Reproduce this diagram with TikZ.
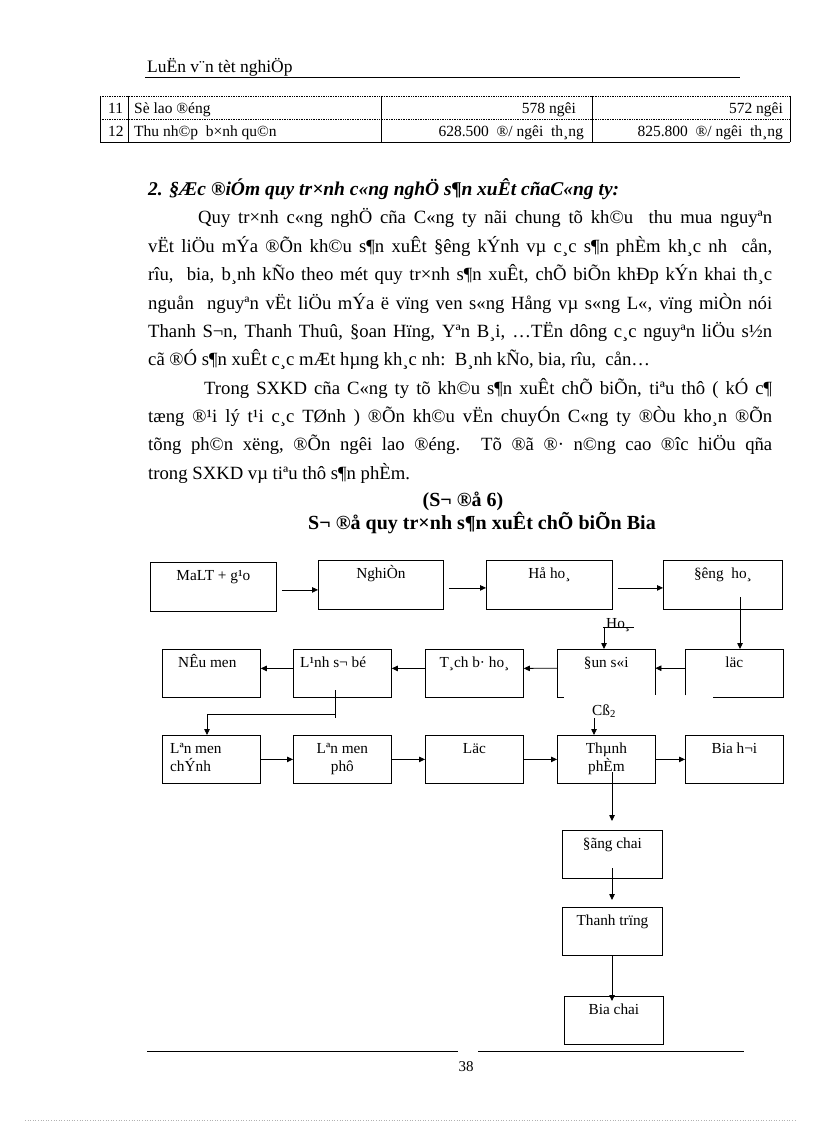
\documentclass[tikz,border=0pt]{standalone}
\usepackage{fontspec}
\setmainfont{Liberation Serif}
\usetikzlibrary{arrows.meta}
\newcommand\jline[2]{\makebox[#1][s]{#2}}
\begin{document}
\begin{tikzpicture}[x=1pt,y=-1pt,
  box/.style={draw,line width=0.8pt,inner sep=0pt,anchor=north west,minimum height=48pt,minimum width=98pt},
  openbox/.style={inner sep=0pt,anchor=north west,minimum height=48pt,minimum width=98pt},
  lbl/.style={inner sep=0pt,font=\fontsize{15.3}{18}\selectfont,align=center},
  arr/.style={line width=0.8pt,-{Triangle[length=6pt,width=5.5pt]}},
  plain/.style={line width=0.8pt},
  body/.style={inner sep=0pt,anchor=base west,font=\fontsize{18.7}{22}\selectfont},
  tbl/.style={inner sep=0pt,font=\fontsize{15.5}{17}\selectfont},
]
\fill[white] (0,0) rectangle (816,1123);
\useasboundingbox (0,0) rectangle (816,1123);

% header
\node[inner sep=0pt,anchor=base west,font=\fontsize{17.5}{19}\selectfont] (hdr) at (147,73) {LuËn v¨n tèt nghiÖp};
\draw[plain] (145,77) -- (740,77);

% table
\draw[densely dotted,line width=0.7pt] (100,96) -- (790,96);
\draw[densely dotted,line width=0.7pt] (100,119) -- (790,119);
\draw[plain] (100,142) -- (790,142);
\foreach \x in {100,128,381,592,790} \draw[plain] (\x,96) -- (\x,142);
\node[tbl,anchor=base west] (n11) at (108,114) {11};
\node[tbl,anchor=base west] (t11) at (134,114) {Sè lao ®éng};
\node[tbl,anchor=base east] (a11) at (576,114) {578 ngêi};
\node[tbl,anchor=base east] (b11) at (783,114) {572 ngêi};
\node[tbl,anchor=base west] (n12) at (108,137) {12};
\node[tbl,anchor=base west] (t12) at (134,137) {Thu nh©p\ \ b×nh qu©n};
\node[tbl,anchor=base east] (a12) at (584,137) {628.500\ \ ®/ ngêi\ \ th¸ng};
\node[tbl,anchor=base east] (b12) at (783,137) {825.800\ \ ®/ ngêi\ \ th¸ng};

% heading
\node[body,font=\fontsize{19.5}{22}\selectfont\bfseries\itshape] (head) at (148,196) {2. §Æc ®iÓm quy tr×nh c«ng nghÖ s¶n xuÊt cñaC«ng ty:};

% paragraph 1
\node[body] (p1) at (198,224) {\jline{574pt}{Quy tr×nh c«ng nghÖ\ cña C«ng ty nãi\ chung tõ kh©u\ \ thu mua nguyªn}};
\node[body] (p2) at (148,252) {\jline{624pt}{vËt liÖu\ mÝa\ ®Õn kh©u\ s¶n xuÊt\ §êng\ kÝnh\ vµ c¸c s¶n phÈm kh¸c nh\ \ cån,}};
\node[body] (p3) at (148,280) {\jline{624pt}{rîu,\ \ bia, b¸nh kÑo theo mét quy tr×nh s¶n xuÊt, chÕ biÕn khÐp kÝn khai th¸c}};
\node[body] (p4) at (148,309) {\jline{624pt}{nguån\ \ nguyªn vËt liÖu mÝa ë\ vïng ven s«ng Hång vµ s«ng L«, vïng\ miÒn nói}};
\node[body] (p5) at (148,337) {\jline{624pt}{Thanh S¬n, Thanh Thuû, §oan Hïng, Yªn B¸i, …TËn dông c¸c nguyªn liÖu s½n}};
\node[body] (p6) at (148,365) {cã ®Ó s¶n xuÊt c¸c mÆt hµng kh¸c nh:\ \ B¸nh kÑo, bia, rîu,\ \ cån…};

% paragraph 2
\node[body] (q1) at (204,394) {\jline{568pt}{Trong SXKD cña C«ng ty tõ kh©u s¶n xuÊt chÕ biÕn, tiªu thô ( kÓ c¶}};
\node[body] (q2) at (148,422) {\jline{624pt}{tæng ®¹i lý t¹i\ c¸c TØnh ) ®Õn kh©u vËn chuyÓn C«ng ty ®Òu kho¸n ®Õn}};
\node[body] (q3) at (148,450) {\jline{624pt}{tõng ph©n\ xëng,\ ®Õn ngêi\ lao ®éng. Tõ ®ã ®· n©ng cao ®îc\ hiÖu qña}};
\node[body] (q4) at (148,479) {trong SXKD vµ tiªu thô s¶n phÈm.};

% titles
\node[inner sep=0pt,anchor=base,font=\fontsize{20}{22}\selectfont\bfseries] (ti1) at (463,506) {(S¬ ®å 6)};
\node[inner sep=0pt,anchor=base,font=\fontsize{20}{22}\selectfont\bfseries] (ti2) at (482,529) {S¬ ®å quy tr×nh\ s¶n xuÊt chÕ biÕn\ Bia};

% row 1
\node[box,minimum width=126pt,minimum height=49pt] (malt) at (150,562) {};
\node[box,minimum width=125pt,minimum height=49pt] (nghien) at (318,560) {};
\node[box,minimum width=126pt,minimum height=49pt] (hoho) at (486,560) {};
\node[box,minimum width=119pt,minimum height=49pt] (duong) at (663,560) {};
\node[lbl,anchor=base] at ([yshift=-18pt]malt.north) {MaLT + g¹o};
\node[lbl,anchor=base] at ([yshift=-18pt]nghien.north) {NghiÒn};
\node[lbl,anchor=base] at ([yshift=-18pt]hoho.north) {Hå ho¸};
\node[lbl,anchor=base] at ([yshift=-18pt]duong.north) {§êng\ \ ho¸};
\draw[arr] ([xshift=5pt,yshift=-3pt]malt.east) -- ([yshift=-3pt]malt.east -| nghien.west);
\draw[arr] ([xshift=5pt,yshift=-3pt]nghien.east) -- ([yshift=-3pt]nghien.east -| hoho.west);
\draw[arr] ([xshift=5pt,yshift=-3pt]hoho.east) -- ([yshift=-3pt]hoho.east -| duong.west);

% row 2
\node[box] (nau) at (162,649) {};
\node[box] (lanh) at (293,649) {};
\node[box] (tach) at (425,649) {};
\node[openbox] (dun) at (557,649) {};
\node[openbox] (loc) at (685,649) {};
\draw[plain] (dun.south west) -- (dun.north west) -- (dun.north east) -- ([yshift=2pt]dun.south east);
\draw[plain] (dun.south west) -- ++(7,0);
\draw[plain] ([yshift=2pt]loc.south west) -- (loc.north west) -- (loc.north east) -- (loc.south east) -- ++(-70,0);
\node[lbl,anchor=base west] at ([xshift=16pt,yshift=-18pt]nau.north west) {NÊu men};
\node[lbl,anchor=base west] at ([xshift=7pt,yshift=-18pt]lanh.north west) {L¹nh s¬ bé};
\node[lbl,anchor=base] at ([yshift=-18pt]tach.north) {T¸ch b· ho¸};
\node[lbl,anchor=base] at ([yshift=-18pt]dun.north) {§un s«i};
\node[lbl,anchor=base] at ([yshift=-18pt]loc.north) {läc};
\coordinate (dstart) at (740,597);
\draw[arr] (dstart) -- (dstart |- loc.north);
\draw[arr] ([yshift=5pt]loc.west) -- ([yshift=5pt]dun.east);
\draw[arr] ([yshift=5pt]dun.west) -- ([yshift=5pt]tach.east);
\draw[arr] ([yshift=5pt]tach.west) -- ([yshift=5pt]lanh.east);
\draw[arr] ([yshift=5pt]lanh.west) -- ([yshift=5pt]nau.east);
% Hoa input
\node[lbl,anchor=base west] (holbl) at (606,628) {Ho¸};
\coordinate (hoin) at (604,627);
\draw[plain] (603,627) -- (634,627);
\draw[arr] (hoin) -- (hoin |- dun.north);

% row 3
\node[box] (lchinh) at (162,735) {};
\node[box] (lphu) at (293,735) {};
\node[box] (loc2) at (425,735) {};
\node[box] (thanh) at (557,735) {};
\node[box] (biahoi) at (685,735) {};
\node[lbl,anchor=base west,align=left] at ([xshift=8pt,yshift=-36pt]lchinh.north west) {Lªn men\\chÝnh};
\node[lbl,anchor=base] at ([yshift=-36pt]lphu.north) {Lªn men\\phô};
\node[lbl,anchor=base] at ([yshift=-18pt]loc2.north) {Läc};
\node[lbl,anchor=base] at ([yshift=-36pt]thanh.north) {Thµnh\\phÈm};
\node[lbl,anchor=base] at ([yshift=-18pt]biahoi.north) {Bia h¬i};
\coordinate (lstart) at (335,690);
\coordinate (lbend) at (335,714);
\draw[plain] (lstart) -- (335,718);
\draw[arr] (lbend) -- (207,714) -- (207,735);
\draw[arr] (lchinh.east) -- (lphu.west);
\draw[arr] (lphu.east) -- (loc2.west);
\draw[arr] (loc2.east) -- (thanh.west);
\draw[arr] (thanh.east) -- (biahoi.west);
% CO2 input
\node[lbl,anchor=base west] (colbl) at (592,715) {Cß\textsubscript{2}};
\coordinate (coin) at (594,718);
\draw[arr] (coin) -- (coin |- thanh.north);

% column
\node[box,minimum width=100pt] (dong) at (562,830) {};
\node[box,minimum width=100pt] (trung) at (562,907) {};
\node[box,minimum width=99pt] (biachai) at (564,996) {};
\node[lbl,anchor=base] at ([yshift=-18pt]dong.north) {§ãng chai};
\node[lbl,anchor=base] at ([yshift=-18pt]trung.north) {Thanh trïng};
\node[lbl,anchor=base] at ([yshift=-18pt]biachai.north) {Bia chai};
\coordinate (t1) at (612,772);
\coordinate (t1e) at (612,821);
\draw[arr] (t1) -- (t1e);
\coordinate (t2) at (612,868);
\coordinate (t2e) at (612,900);
\draw[arr] (t2) -- (t2e);
\coordinate (t3e) at (612,1001);
\draw[arr] (trung.south -| t3e) -- (t3e);

% footer
\draw[plain] (147,1051) -- (458,1051);
\draw[plain] (478,1051) -- (744,1051);
\node[inner sep=0pt,anchor=base,font=\fontsize{15}{17}\selectfont] (pg) at (466,1071) {38};
\draw[gray!60,dotted,line width=0.6pt] (25,1120) -- (795,1120);
\end{tikzpicture}
\end{document}
